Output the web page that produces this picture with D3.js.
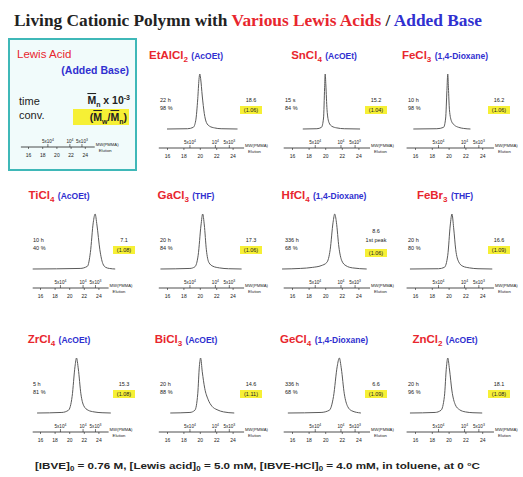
<!DOCTYPE html>
<html><head><meta charset="utf-8">
<script src="https://cdn.jsdelivr.net/npm/d3@7"></script>
<style>body{margin:0;background:#fff}svg{display:block}</style>
</head><body>
<script>
// Lewis acid / added base systems, read left-to-right, top-to-bottom (first cell is the key)
const acids = ["EtAlCl2","SnCl4","FeCl3","TiCl4","GaCl3","HfCl4","FeBr3","ZrCl4","BiCl3","GeCl4","ZnCl2"];
const bases = ["AcOEt","AcOEt","1,4-Dioxane","AcOEt","THF","1,4-Dioxane","THF","AcOEt","AcOEt","1,4-Dioxane","AcOEt"];
const times = ["22 h","15 s","10 h","10 h","20 h","336 h","20 h","5 h","20 h","336 h","20 h"];
const convs = ["98 %","84 %","98 %","40 %","84 %","68 %","80 %","81 %","88 %","68 %","96 %"];
const mnK   = ["18.6","15.2","16.2","7.1","17.3","8.6","16.6","15.3","14.6","6.6","18.1"];
const notes = ["","","","","","1st peak","","","","",""];
const mwMn  = ["1.06","1.04","1.06","1.08","1.06","1.06","1.09","1.08","1.11","1.09","1.08"];

// elution-time axis ticks (min) and PMMA calibration marks
const elutionTicks = [16,18,20,22,24];
const mwMarkElution = [18.8,21.9,23.6];
const mwMarkMant = ["5x10","10","5x10"];
const mwMarkExp = ["4","4","3"];

// GPC traces: [elution time (min), normalised RI intensity]
const trEtAlCl2 = [[16.0,0],[18.5,0.005],[19.2,0.03],[19.5,0.15],[19.75,0.55],[19.9,0.9],[20.0,1],[20.1,0.92],[20.3,0.6],[20.55,0.28],[20.8,0.12],[21.2,0.05],[21.8,0.02],[22.6,0.005],[24.6,0]];
const trSnCl4   = [[17.3,0],[19.0,0.005],[19.55,0.03],[19.8,0.2],[19.93,0.75],[20.0,1],[20.08,0.8],[20.22,0.35],[20.45,0.12],[20.8,0.05],[21.4,0.02],[22.3,0.005],[24.2,0]];
const trFeCl3   = [[15.8,0],[18.6,0.005],[19.4,0.03],[19.65,0.2],[19.8,0.7],[19.9,1],[19.98,0.75],[20.1,0.35],[20.35,0.14],[20.7,0.07],[21.2,0.03],[21.8,0.01],[22.6,0]];
const trTiCl4   = [[15.0,0],[21.5,0.01],[22.5,0.05],[22.9,0.3],[23.3,0.85],[23.55,1],[23.8,0.8],[24.2,0.35],[24.6,0.1],[25.0,0.03],[25.5,0.01],[26.3,0]];
const trGaCl3   = [[15.2,0],[18.8,0.01],[19.4,0.04],[19.8,0.25],[20.15,0.8],[20.35,1],[20.55,0.8],[20.8,0.35],[21.1,0.12],[21.6,0.05],[22.4,0.02],[23.5,0.005],[25.1,0]];
const trHfCl4   = [[14.8,0],[17.0,0.01],[18.5,0.03],[19.5,0.06],[20.2,0.12],[20.6,0.35],[20.95,0.85],[21.15,1],[21.35,0.85],[21.65,0.4],[22.0,0.15],[22.5,0.06],[23.3,0.02],[25.0,0]];
const trFeBr3   = [[15.4,0],[18.8,0.005],[19.5,0.03],[19.9,0.25],[20.2,0.8],[20.4,1],[20.6,0.75],[20.85,0.35],[21.2,0.13],[21.7,0.05],[22.5,0.02],[23.5,0.005],[25.2,0]];
const trZrCl4   = [[15.6,0],[19.0,0.01],[19.9,0.05],[20.4,0.3],[20.8,0.85],[21.0,1],[21.25,0.8],[21.6,0.35],[22.0,0.13],[22.6,0.05],[23.4,0.02],[24.5,0.005],[25.7,0]];
const trBiCl3   = [[16.4,0],[18.8,0.01],[19.4,0.05],[19.75,0.35],[19.95,0.85],[20.1,1],[20.3,0.75],[20.6,0.45],[21.0,0.25],[21.5,0.12],[22.1,0.06],[22.9,0.02],[24.2,0]];
const trGeCl4   = [[15.5,0],[19.5,0.01],[20.5,0.05],[21.0,0.3],[21.45,0.85],[21.7,1],[21.95,0.8],[22.3,0.35],[22.7,0.12],[23.2,0.04],[24.3,0]];
const trZnCl2   = [[15.4,0],[18.4,0.01],[19.1,0.05],[19.5,0.3],[19.75,0.85],[19.9,1],[20.1,0.8],[20.4,0.4],[20.8,0.15],[21.3,0.06],[22.0,0.02],[22.9,0.005],[24.0,0]];
const traces = [trEtAlCl2,trSnCl4,trFeCl3,trTiCl4,trGaCl3,trHfCl4,trFeBr3,trZrCl4,trBiCl3,trGeCl4,trZnCl2];

const RED = "#e8262e", BLUE = "#3030d0", INK = "#222", TRACE = "#5a5a5a", YELLOW = "#f6f035";
const SANS = "Arial, 'Liberation Sans', sans-serif";
const SERIF = "'Liberation Serif', 'DejaVu Serif', serif";

const svg = d3.select("body").append("svg").attr("width", 523).attr("height", 477)
  .attr("font-family", SANS);

// formula with subscripted digits, e.g. EtAlCl2
function formula(text, str, size) {
  str.match(/[^0-9]+|[0-9]+/g).forEach(p => {
    if (/^[0-9]+$/.test(p)) {
      text.append("tspan").attr("dy", size * 0.3).attr("font-size", size * 0.7).text(p);
      text.append("tspan").attr("dy", -size * 0.3).attr("font-size", size).text("\u200a");
    } else {
      text.append("tspan").attr("font-size", size).text(p);
    }
  });
}

// ---- heading
const head = svg.append("text").attr("x", 14).attr("y", 26)
  .style("font-family", SERIF).attr("font-weight", "bold").attr("font-size", 16.5)
  .attr("textLength", 468).attr("lengthAdjust", "spacingAndGlyphs");
head.append("tspan").attr("fill", INK).text("Living Cationic Polymn with ");
head.append("tspan").attr("fill", RED).text("Various Lewis Acids");
head.append("tspan").attr("fill", INK).text(" / ");
head.append("tspan").attr("fill", BLUE).text("Added Base");

// ---- column / row geometry
const colE16 = [40, 167, 292, 415];
const colPx  = [7.3, 8.2, 8.3, 8.4];
const colTitle = [19, 19, 32, 30];
const rowAxis = [148, 288, 432];

function drawAxis(g, x, ay) {
  g.append("g").attr("transform", `translate(0,${ay})`)
    .call(d3.axisBottom(x).tickValues(elutionTicks).tickSize(2).tickSizeOuter(0).tickFormat(d3.format("d")))
    .call(a => a.select(".domain").remove())
    .call(a => a.selectAll("line").attr("stroke", INK).attr("stroke-width", 0.6))
    .call(a => a.selectAll("text").attr("font-size", 5).attr("font-family", SANS).attr("fill", INK).attr("dy", "0.9em"));
  g.append("line").attr("x1", x(15)).attr("x2", x(25.4)).attr("y1", ay).attr("y2", ay)
    .attr("stroke", INK).attr("stroke-width", 0.8);
  // PMMA calibration marks
  mwMarkElution.forEach((e, k) => {
    g.append("line").attr("x1", x(e)).attr("x2", x(e)).attr("y1", ay).attr("y2", ay - 3)
      .attr("stroke", INK).attr("stroke-width", 0.6);
    const t = g.append("text").attr("x", x(e)).attr("y", ay - 4).attr("text-anchor", "middle")
      .attr("font-size", 4.6).attr("fill", INK);
    t.append("tspan").text(mwMarkMant[k]);
    t.append("tspan").attr("dy", -2).attr("font-size", 3.4).text(mwMarkExp[k]);
  });
  const lx = x(25.4) + 1;
  g.append("text").attr("x", lx).attr("y", ay - 1).attr("font-size", 4.2).attr("fill", INK).text("MW(PMMA)");
  g.append("text").attr("x", lx + 3).attr("y", ay + 4.5).attr("font-size", 4.2).attr("fill", INK).text("Elution");
}

// ---- key cell
const key = svg.append("g");
key.append("rect").attr("x", 9).attr("y", 39).attr("width", 127).attr("height", 131)
  .attr("fill", "#f1fbfb").attr("stroke", "#3fb8b8").attr("stroke-width", 2);
key.append("text").attr("x", 17).attr("y", 58).attr("font-size", 11.5).attr("fill", RED).text("Lewis Acid");
key.append("text").attr("x", 129).attr("y", 74).attr("text-anchor", "end").attr("font-size", 10.5)
  .attr("font-weight", "bold").attr("fill", BLUE).text("(Added Base)");
key.append("text").attr("x", 19).attr("y", 105).attr("font-size", 11).attr("fill", INK).text("time");
key.append("text").attr("x", 19).attr("y", 119).attr("font-size", 11).attr("fill", INK).text("conv.");
const kMn = key.append("text").attr("x", 130).attr("y", 104).attr("text-anchor", "end")
  .attr("font-size", 10.5).attr("font-weight", "bold").attr("fill", INK);
kMn.append("tspan").attr("text-decoration", "overline").text("M");
kMn.append("tspan").attr("dy", 2.5).attr("font-size", 7).text("n");
kMn.append("tspan").attr("dy", -2.5).text(" x 10");
kMn.append("tspan").attr("dy", -4).attr("font-size", 7).text("-3");
key.append("rect").attr("x", 73).attr("y", 109).attr("width", 56).attr("height", 16).attr("fill", YELLOW);
const kR = key.append("text").attr("x", 127).attr("y", 121).attr("text-anchor", "end")
  .attr("font-size", 10.5).attr("font-weight", "bold").attr("fill", INK);
kR.append("tspan").text("(");
kR.append("tspan").attr("text-decoration", "overline").text("M");
kR.append("tspan").attr("dy", 2.5).attr("font-size", 7).text("w");
kR.append("tspan").attr("dy", -2.5).text("/");
kR.append("tspan").attr("text-decoration", "overline").text("M");
kR.append("tspan").attr("dy", 2.5).attr("font-size", 7).text("n");
kR.append("tspan").attr("dy", -2.5).text(")");
drawAxis(key, d3.scaleLinear().domain([16, 24]).range([28, 28 + 8 * 7.1]), 147);

// ---- one panel per Lewis acid
acids.forEach((acid, i) => {
  const cell = i + 1, c = cell % 4, r = Math.floor(cell / 4);
  const x = d3.scaleLinear().domain([16, 24]).range([colE16[c], colE16[c] + 8 * colPx[c]]);
  const ay = rowAxis[r], base = ay - 19;
  const y = d3.scaleLinear().domain([0, 1]).range([base, base - 55]);
  const g = svg.append("g");

  const title = g.append("text").attr("x", colE16[c] + colTitle[c]).attr("y", ay - 89)
    .attr("text-anchor", "middle");
  const tA = title.append("tspan").attr("fill", RED).attr("font-weight", "bold");
  formula(tA, acid, 11.5);
  title.append("tspan").attr("fill", BLUE).attr("font-size", 8.5).attr("font-weight", "bold")
    .text(" (" + bases[i] + ")");

  g.append("path").datum(traces[i])
    .attr("d", d3.line().x(d => x(d[0])).y(d => y(d[1])).curve(d3.curveMonotoneX))
    .attr("fill", "none").attr("stroke", TRACE).attr("stroke-width", 1);

  const tx = colE16[c] - 7;
  g.append("text").attr("x", tx).attr("y", ay - 46).attr("font-size", 5.5).attr("fill", INK).text(times[i]);
  g.append("text").attr("x", tx).attr("y", ay - 38).attr("font-size", 5.5).attr("fill", INK).text(convs[i]);

  const cx = colE16[c] + 84;
  const hasNote = !!notes[i];
  g.append("text").attr("x", cx).attr("y", ay - (hasNote ? 55 : 46)).attr("text-anchor", "middle")
    .attr("font-size", 5.5).attr("fill", INK).text(mnK[i]);
  if (hasNote) g.append("text").attr("x", cx).attr("y", ay - 46).attr("text-anchor", "middle")
    .attr("font-size", 5.5).attr("fill", INK).text(notes[i]);
  const by = ay - (hasNote ? 39 : 42);
  g.append("rect").attr("x", cx - 11).attr("y", by).attr("width", 22).attr("height", 8).attr("fill", YELLOW);
  g.append("text").attr("x", cx).attr("y", by + 6).attr("text-anchor", "middle")
    .attr("font-size", 5.5).attr("fill", INK).text("(" + mwMn[i] + ")");

  drawAxis(g, x, ay);
});

// ---- conditions
const foot = svg.append("text").attr("x", 35).attr("y", 469).attr("font-size", 9.5)
  .attr("font-weight", "bold").attr("fill", INK)
  .attr("textLength", 445).attr("lengthAdjust", "spacingAndGlyphs");
[["[IBVE]", "0", " = 0.76 M, [Lewis acid]"], [null, "0", " = 5.0 mM, [IBVE-HCl]"], [null, "0", " = 4.0 mM, in toluene, at 0 \u00b0C"]]
  .forEach(([pre, sub, post]) => {
    if (pre) foot.append("tspan").text(pre);
    foot.append("tspan").attr("dy", 2).attr("font-size", 6.5).text(sub);
    foot.append("tspan").attr("dy", -2).text(post);
  });
</script>
</body></html>
